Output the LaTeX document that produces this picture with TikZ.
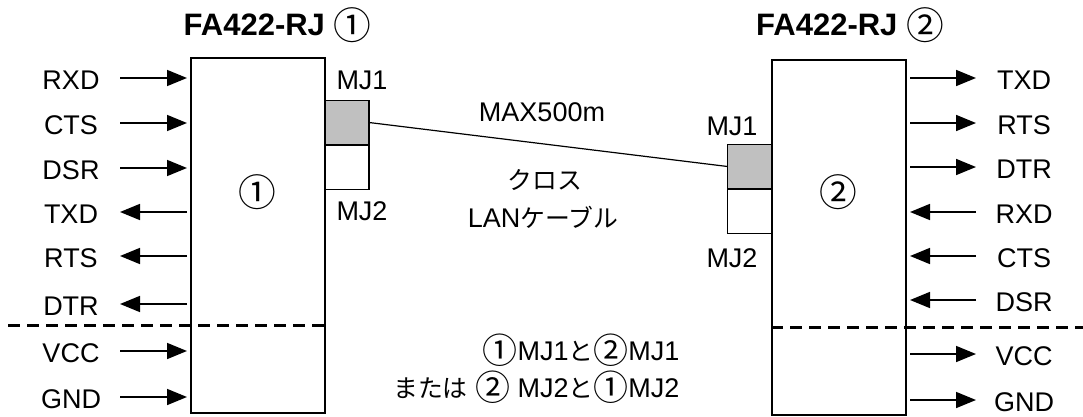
\documentclass[tikz,border=0pt]{standalone}
\usepackage{fontspec}
\setmainfont{Liberation Sans}
\newfontfamily\jpfont[Scale=0.92]{Noto Sans CJK JP}
\usepackage{tikz}
\usetikzlibrary{arrows.meta,positioning}
\definecolor{portgray}{HTML}{C0C0C0}
\newcommand{\cnum}[2][41]{\raisebox{-0.12em}{\jpfont\mdseries\fontsize{#1}{#1}\selectfont #2}}

\begin{document}
\begin{tikzpicture}[x=1pt,y=1pt,
  every node/.style={font=\fontsize{27}{30}\selectfont},
  unit/.style={draw,line width=1.8pt,minimum width=134pt,minimum height=355pt,inner sep=0pt},
  port/.style={draw,line width=1.5pt,minimum width=44pt,minimum height=44.5pt,inner sep=0pt,outer sep=0pt},
  sig/.style={line width=1.6pt,-{Triangle[length=20pt,width=16pt]}},
  split/.style={line width=3pt,dash pattern=on 12pt off 7pt}]
\useasboundingbox (0,0) rectangle (1083,416);

\node[font=\fontsize{31}{33}\selectfont\bfseries] (title1) at (277.5,391) {FA422-RJ \cnum{①}};
\node[font=\fontsize{31}{33}\selectfont\bfseries] (title2) at (850,391) {FA422-RJ \cnum{②}};

\node[unit] (box1) at (258,180.5) {};
\node (num1) at (257,224) {\cnum{①}};
\node[unit] (box2) at (839,178.5) {};
\node (num2) at (838,224) {\cnum{②}};

\node[port,fill=portgray] (mj1a) at (347,293.5) {};
\node[port,below=0pt of mj1a] (mj2a) {};
\node[port,fill=portgray] (mj1b) at (749.5,249.5) {};
\node[port,below=0pt of mj1b] (mj2b) {};
\node (lmj1a) at (362,336) {MJ1};
\node (lmj2a) at (362,205) {MJ2};
\node (lmj1b) at (732,290) {MJ1};
\node (lmj2b) at (732,158) {MJ2};

\draw[line width=1.2pt] (mj1a.east) -- (mj1b.west);
\node (len) at (542,304) {MAX500m};
\node (cross) at (545,236) {\jpfont クロス};
\node (lan) at (543,199) {LAN{\jpfont ケーブル}};

\foreach \y/\name/\a/\b [count=\i] in {338/RXD/120/187,293/CTS/120/187,248/DSR/120/187,
    204/TXD/187/120,160/RTS/187/120,112/DTR/187/120,65/VCC/120/187,19/GND/120/187}{
  \node (lsig\i) at (71,\y-2) {\name};
  \coordinate (ls\i) at (\a,\y);
  \coordinate (le\i) at (\b,\y);
  \draw[sig] (ls\i) -- (le\i);
}
\foreach \y/\name/\a/\b [count=\i] in {338/TXD/910/976,293/RTS/910/976,249/DTR/910/976,
    204/RXD/976/910,160/CTS/976/910,116/DSR/976/910,62/VCC/910/976,16/GND/910/976}{
  \node (rsig\i) at (1024,\y-2) {\name};
  \coordinate (rs\i) at (\a,\y);
  \coordinate (re\i) at (\b,\y);
  \draw[sig] (rs\i) -- (re\i);
}

\coordinate (dl) at (8,91);
\coordinate (dr) at (1083,89);
\draw[split] (dl) -- (box1.east |- dl);
\draw[split] (box2.west |- dr) -- (dr);

\node[align=right,anchor=east,font=\fontsize{27}{37}\selectfont] (note) at (683,47.5)
  {\cnum[38]{①}MJ1{\jpfont と}\cnum[38]{②}MJ1\\{\jpfont または} \cnum[38]{②} MJ2{\jpfont と}\cnum[38]{①}MJ2};
\end{tikzpicture}
\end{document}
